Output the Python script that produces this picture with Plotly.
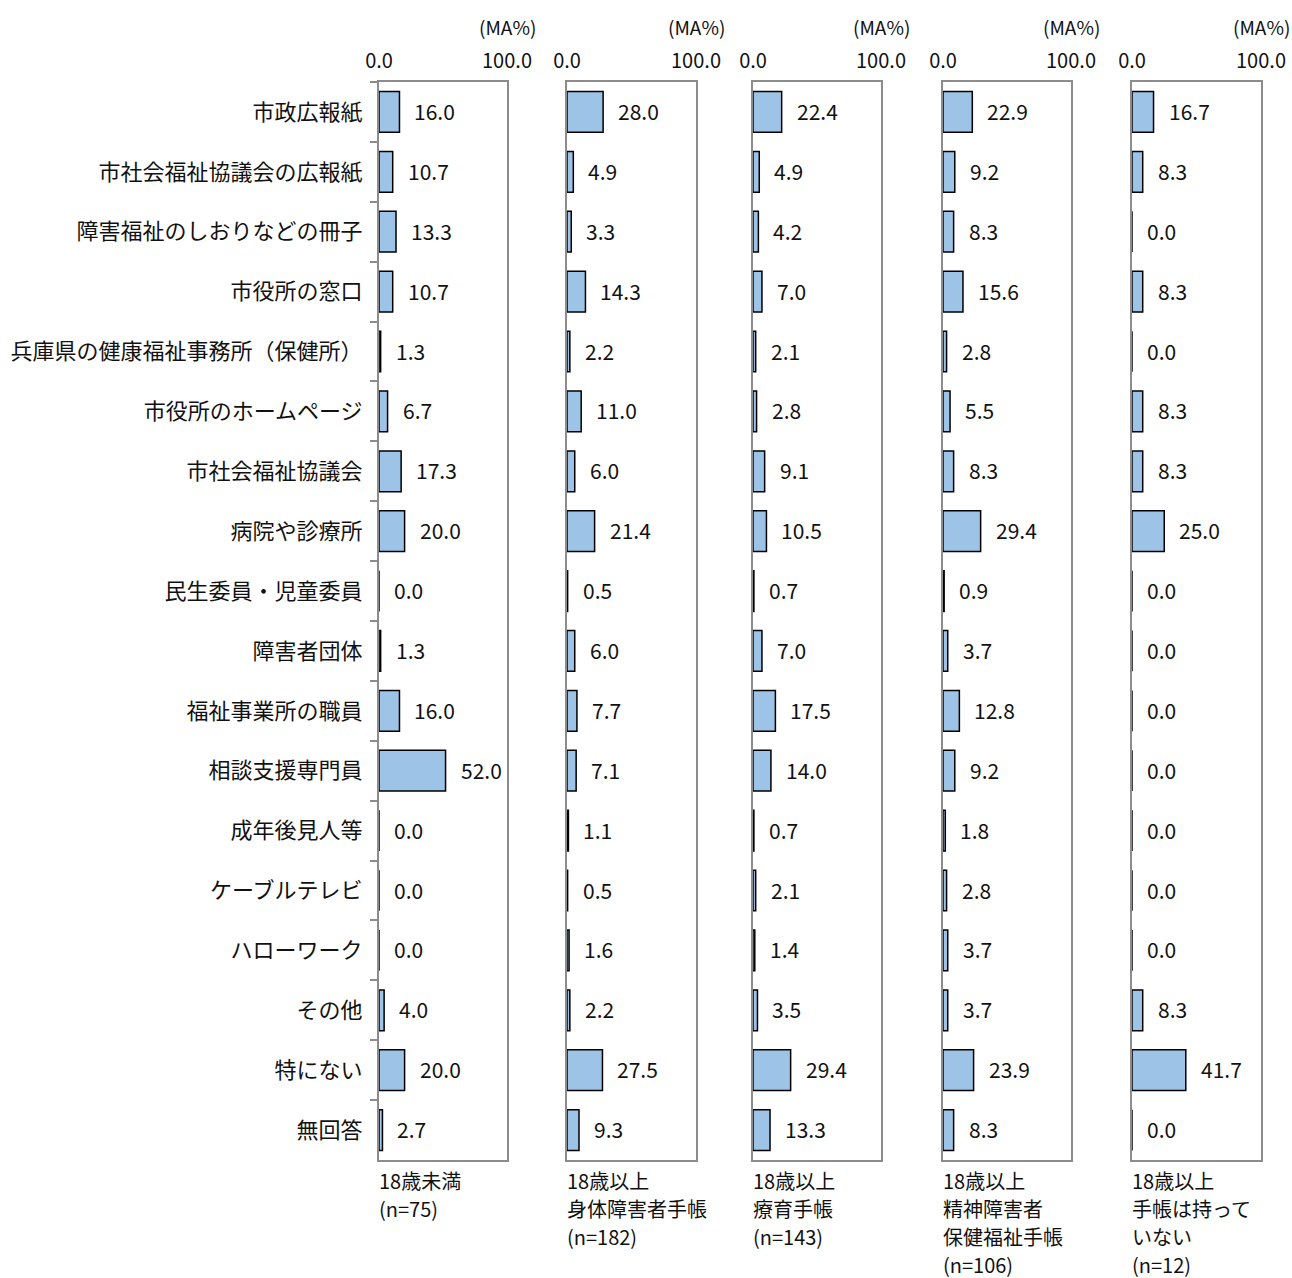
import plotly.graph_objects as go

categories = [
    "市政広報紙", "市社会福祉協議会の広報紙", "障害福祉のしおりなどの冊子", "市役所の窓口",
    "兵庫県の健康福祉事務所（保健所）", "市役所のホームページ", "市社会福祉協議会", "病院や診療所",
    "民生委員・児童委員", "障害者団体", "福祉事業所の職員", "相談支援専門員",
    "成年後見人等", "ケーブルテレビ", "ハローワーク", "その他", "特にない", "無回答",
]

group_labels = [
    ["18歳未満", "(n=75)"],
    ["18歳以上", "身体障害者手帳", "(n=182)"],
    ["18歳以上", "療育手帳", "(n=143)"],
    ["18歳以上", "精神障害者", "保健福祉手帳", "(n=106)"],
    ["18歳以上", "手帳は持って", "いない", "(n=12)"],
]

under18 = [16.0, 10.7, 13.3, 10.7, 1.3, 6.7, 17.3, 20.0, 0.0, 1.3, 16.0, 52.0, 0.0, 0.0, 0.0, 4.0, 20.0, 2.7]
physical = [28.0, 4.9, 3.3, 14.3, 2.2, 11.0, 6.0, 21.4, 0.5, 6.0, 7.7, 7.1, 1.1, 0.5, 1.6, 2.2, 27.5, 9.3]
ryoiku = [22.4, 4.9, 4.2, 7.0, 2.1, 2.8, 9.1, 10.5, 0.7, 7.0, 17.5, 14.0, 0.7, 2.1, 1.4, 3.5, 29.4, 13.3]
mental = [22.9, 9.2, 8.3, 15.6, 2.8, 5.5, 8.3, 29.4, 0.9, 3.7, 12.8, 9.2, 1.8, 2.8, 3.7, 3.7, 23.9, 8.3]
no_book = [16.7, 8.3, 0.0, 8.3, 0.0, 8.3, 8.3, 25.0, 0.0, 0.0, 0.0, 0.0, 0.0, 0.0, 0.0, 8.3, 41.7, 0.0]

series = [under18, physical, ryoiku, mental, no_book]

W, H = 1292, 1278
panel_px = [(379, 507), (567, 696), (753, 881), (943, 1071), (1132, 1261)]

JP = "Noto Sans CJK JP"
FRAME = "#8c8c8c"
BAR = "#9DC3E6"
TXT = "#111111"

fig = go.Figure()
annotations = []
layout = {}

for i, vals in enumerate(series):
    n = i + 1
    xa = "x" if n == 1 else f"x{n}"
    ya = "y" if n == 1 else f"y{n}"
    xkey = "xaxis" if n == 1 else f"xaxis{n}"
    ykey = "yaxis" if n == 1 else f"yaxis{n}"
    l, r = panel_px[i]
    fig.add_trace(go.Bar(
        x=vals, y=categories, orientation="h", xaxis=xa, yaxis=ya,
        marker=dict(color=BAR, line=dict(color="black", width=1.5)),
        showlegend=False, hoverinfo="x+y",
    ))
    layout[xkey] = dict(
        domain=[l / W, r / W], range=[0, 100], side="top",
        tickvals=[0, 100], ticktext=["0.0", "100.0"],
        tickfont=dict(family=JP, size=20, color=TXT),
        showgrid=False, zeroline=False, ticks="",
        showline=True, mirror=True, linecolor=FRAME, linewidth=2,
        anchor=ya, fixedrange=True, ticklabelstandoff=4, automargin=False,
    )
    ydict = dict(
        categoryorder="array", categoryarray=categories,
        range=[len(categories) - 0.5, -0.5], anchor=xa,
        showgrid=False, zeroline=False,
        showline=True, mirror=True, linecolor=FRAME, linewidth=2,
        fixedrange=True, automargin=False,
    )
    if n == 1:
        ydict.update(showticklabels=True, ticks="outside", tickson="boundaries",
                     ticklen=7, tickcolor=FRAME, tickwidth=2,
                     tickfont=dict(family=JP, size=22, color=TXT),
                     ticklabelstandoff=10)
    else:
        ydict.update(showticklabels=False, ticks="")
    layout[ykey] = ydict

    for cat, v in zip(categories, vals):
        annotations.append(dict(
            x=v, y=cat, xref=xa, yref=ya, text=f"{v:.1f}", showarrow=False,
            xanchor="left", yanchor="middle", xshift=13, yshift=1,
            font=dict(family=JP, size=21, color=TXT),
        ))
    annotations.append(dict(
        x=100, y=1, xref=xa, yref="paper", text="(MA%)", showarrow=False,
        xanchor="center", yanchor="middle", yshift=56,
        font=dict(family=JP, size=19, color=TXT),
    ))
    for k, line in enumerate(group_labels[i]):
        annotations.append(dict(
            x=l / W, y=0, xref="paper", yref="paper", text=line, showarrow=False,
            xanchor="left", yanchor="middle", yshift=-(20 + 28 * k), align="left",
            xshift=-2, font=dict(family=JP, size=20, color=TXT),
        ))

fig.update_layout(
    width=W, height=H,
    margin=dict(l=0, r=0, t=82, b=118),
    paper_bgcolor="white", plot_bgcolor="white",
    bargap=0.32,
    annotations=annotations,
    font=dict(family=JP, color=TXT),
    **layout,
)

fig.write_html("out.html")
